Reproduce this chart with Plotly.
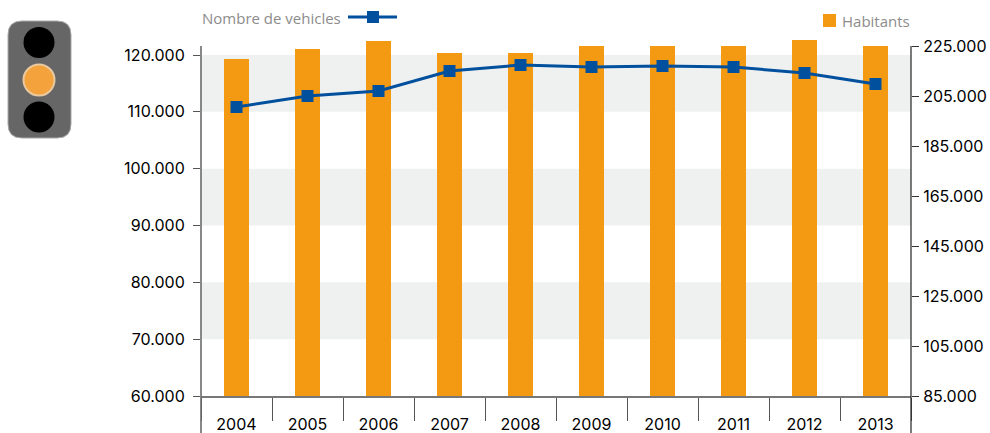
import plotly.graph_objects as go

years = ["2004","2005","2006","2007","2008","2009","2010","2011","2012","2013"]
habitants = [219800,223800,227000,222200,222200,225000,225000,225000,227400,225000]
vehicles = [110850,112790,113670,117190,118240,117890,118070,117890,116840,114900]
left_ticks = [60000,70000,80000,90000,100000,110000,120000]
right_ticks = [85000,105000,125000,145000,165000,185000,205000,225000]
bands = [(110000,120000),(90000,100000),(70000,80000)]

W,H = 990,433
L,R,T,B = 201,911,30,396
left_range = [60000,124403]
right_range = [85000,231400]
FONT = "Inter"
ORANGE = "#F39A12"
BLUE = "#00509E"
def px(x): return (x-L)/(R-L)
def py(y): return (B-y)/(B-T)
def fmt(v): return f"{v:,}".replace(",",".")

fig = go.Figure()
fig.add_bar(x=years,y=habitants,width=0.34,marker=dict(color=ORANGE,line_width=0),yaxis="y",name="Habitants")
fig.add_scatter(x=years,y=vehicles,yaxis="y2",mode="lines+markers",name="Nombre de vehicles",
    line=dict(color=BLUE,width=3),marker=dict(symbol="square",size=12,color=BLUE))

shapes=[]
def frac(v): return (v-left_range[0])/(left_range[1]-left_range[0])
for a,b in bands:
    shapes.append(dict(type="rect",xref="paper",yref="paper",x0=0,x1=1,y0=frac(a),y1=frac(b),fillcolor="#EFF1F1",line_width=0,layer="below"))
shapes += [
 dict(type="line",xref="paper",yref="paper",x0=0,x1=0,y0=py(433),y1=py(46),line=dict(color="#6b6b6b",width=1.6)),
 dict(type="line",xref="paper",yref="paper",x0=1,x1=1,y0=py(433),y1=py(46),line=dict(color="#222",width=1.2)),
 dict(type="line",xref="paper",yref="paper",x0=px(348),x1=px(397),y0=py(17),y1=py(17),line=dict(color=BLUE,width=3)),
 dict(type="rect",xref="paper",yref="paper",x0=px(367),x1=px(379),y0=py(23),y1=py(11),fillcolor=BLUE,line_width=0),
 dict(type="rect",xref="paper",yref="paper",x0=px(823),x1=px(836),y0=py(27),y1=py(14),fillcolor=ORANGE,line_width=0),
]
def rrect(x0,y0,x1,y1,r):
    X=lambda v:px(v); Y=lambda v:py(v)
    return (f"M {X(x0+r)} {Y(y0)} L {X(x1-r)} {Y(y0)} Q {X(x1)} {Y(y0)} {X(x1)} {Y(y0+r)} "
            f"L {X(x1)} {Y(y1-r)} Q {X(x1)} {Y(y1)} {X(x1-r)} {Y(y1)} L {X(x0+r)} {Y(y1)} "
            f"Q {X(x0)} {Y(y1)} {X(x0)} {Y(y1-r)} L {X(x0)} {Y(y0+r)} Q {X(x0)} {Y(y0)} {X(x0+r)} {Y(y0)} Z")
shapes.append(dict(type="path",xref="paper",yref="paper",path=rrect(8,21,71,138,14),fillcolor="#666666",line=dict(color="#a9a9a9",width=1)))
for cy,r,col,lc,lw in [(42.5,15.5,"#000000","#000000",0),(80,15.5,"#F4A23C","#E9C9A0",2),(117,15.5,"#000000","#000000",0)]:
    shapes.append(dict(type="circle",xref="paper",yref="paper",x0=px(39-r),x1=px(39+r),y0=py(cy+r),y1=py(cy-r),fillcolor=col,line=dict(color=lc,width=lw)))

annotations=[
 dict(text="Nombre de vehicles",xref="paper",yref="paper",x=px(343),y=py(18),xanchor="right",yanchor="middle",showarrow=False,font=dict(family="Open Sans",size=15,color="#8c8c8c")),
 dict(text="Habitants",xref="paper",yref="paper",x=px(840),y=py(21),xanchor="left",yanchor="middle",showarrow=False,font=dict(family="Open Sans",size=15,color="#8c8c8c")),
]

fig.update_layout(
    width=W,height=H,autosize=False,showlegend=False,bargap=0,
    margin=dict(l=L,r=W-R,t=T,b=H-B,pad=0,autoexpand=False),
    plot_bgcolor="rgba(0,0,0,0)",paper_bgcolor="white",
    font=dict(family=FONT,size=16,color="#000"),
    shapes=shapes,annotations=annotations,
    xaxis=dict(type="category",categoryorder="array",categoryarray=years,range=[-0.5,9.5],tickson="boundaries",ticks="outside",ticklen=23,tickcolor="#555",tickwidth=1.3,
               showline=True,linecolor="#777",linewidth=2,showgrid=False,zeroline=False,ticklabelstandoff=13,automargin=False),
    yaxis=dict(side="right",range=right_range,tickvals=right_ticks,ticktext=[fmt(v) for v in right_ticks],ticks="outside",ticklen=7,tickcolor="#333",tickwidth=1.2,
               showgrid=False,zeroline=False,showline=False,automargin=False,ticklabelstandoff=1),
    yaxis2=dict(side="left",overlaying="y",range=left_range,tickvals=left_ticks,ticktext=[fmt(v) for v in left_ticks],ticks="outside",ticklen=7,tickcolor="#555",tickwidth=1.2,
                showgrid=False,zeroline=False,showline=False,automargin=False,ticklabelstandoff=5),
)
fig.write_html("out.html",config=dict(displayModeBar=False),post_script="document.body.style.margin='0';")
